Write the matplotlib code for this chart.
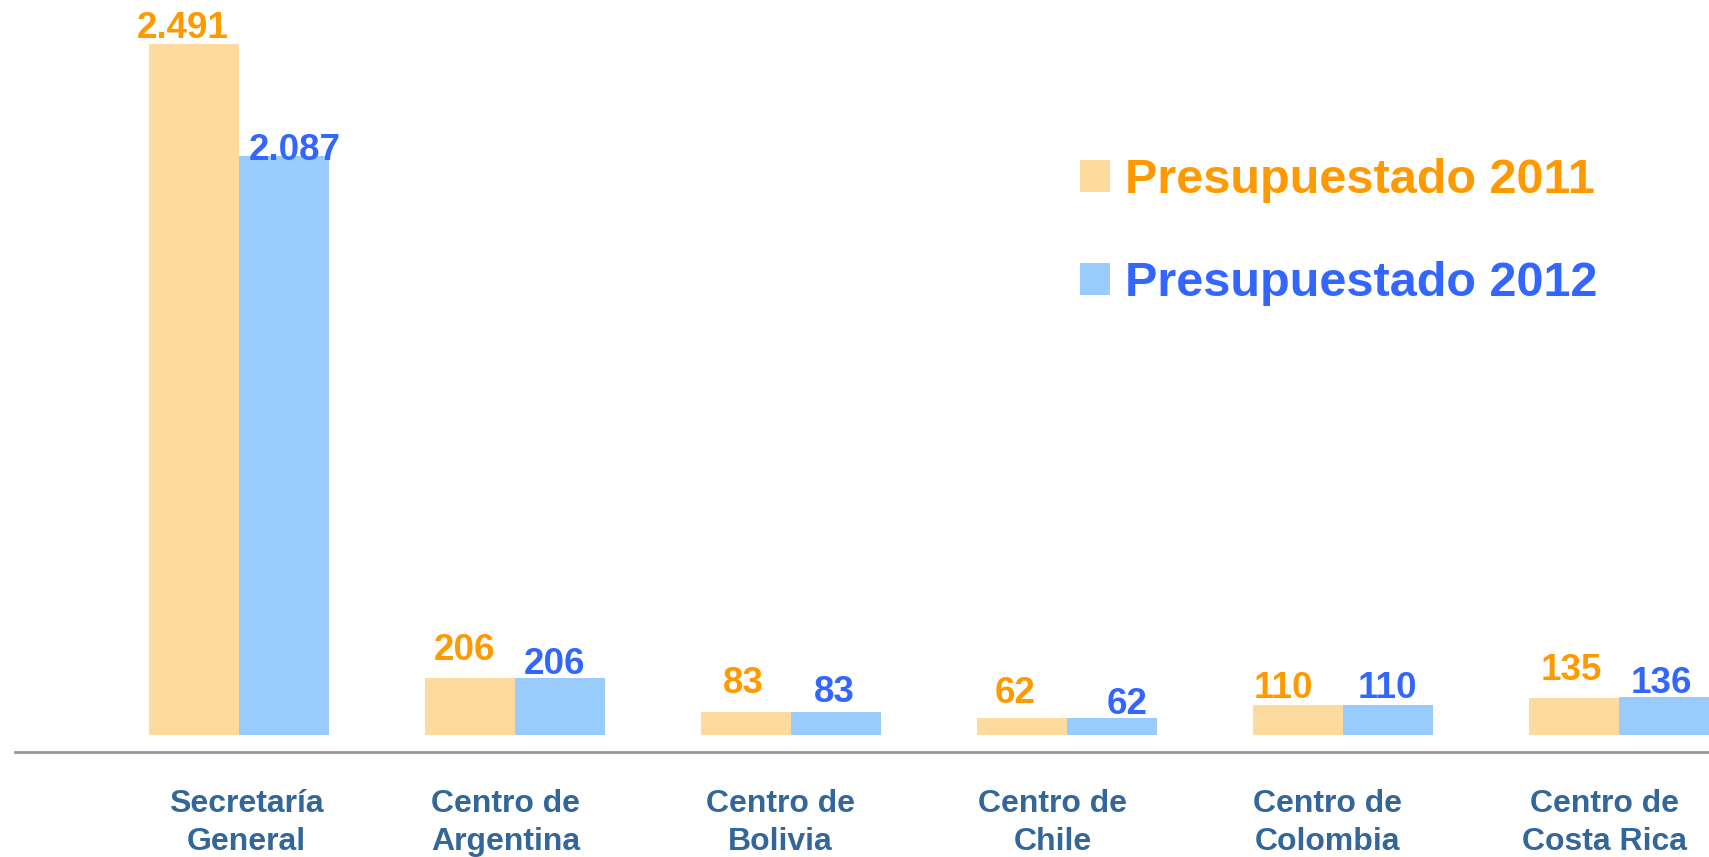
import matplotlib.pyplot as plt
import numpy as np

# data
categories = ["Secretaría\nGeneral", "Centro de\nArgentina", "Centro de\nBolivia",
              "Centro de\nChile", "Centro de\nColombia", "Centro de\nCosta Rica"]
series_names = ["Presupuestado 2011", "Presupuestado 2012"]
values_2011 = [2491, 206, 83, 62, 110, 135]
values_2012 = [2087, 206, 83, 62, 110, 136]
labels_2011 = ["2.491", "206", "83", "62", "110", "135"]
labels_2012 = ["2.087", "206", "83", "62", "110", "136"]

# hand placed label nudges (points), as in the original slide
nudge_2011 = [(-8, 4), (-4, 13), (-2, 14), (-5, 11), (-10, 5), (-2, 12.5)]
nudge_2012 = [(8, -3), (-4, 3), (-1, 7), (11, 3), (0, 5), (-2, 3)]
cat_shift = [0.028, -0.032, -0.036, -0.051, -0.055, -0.051]

bar_fill = ["#FDDA9E", "#9ACBFD"]
text_col = ["#FF9900", "#3366FF"]
cat_col = "#336699"

plt.rcParams['font.family'] = ['Liberation Sans', 'DejaVu Sans']
plt.rcParams['font.weight'] = 'bold'

fig = plt.figure(figsize=(17.09, 8.57), dpi=100)
ax = fig.add_axes([15/1709, 105/857, 1 - 15/1709, 752/857])

x = np.arange(len(categories))
w = 0.326
b1 = ax.bar(x - w/2, values_2011, w, color=bar_fill[0], label=series_names[0])
b2 = ax.bar(x + w/2, values_2012, w, color=bar_fill[1], label=series_names[1])

for bars, labs, nudges, col in [(b1, labels_2011, nudge_2011, text_col[0]),
								(b2, labels_2012, nudge_2012, text_col[1])]:
	for rect, lab, (dx, dy) in zip(bars, labs, nudges):
		ax.annotate(lab, (rect.get_x() + rect.get_width()/2, rect.get_height()),
					xytext=(dx, dy), textcoords="offset points", ha="center", va="baseline",
					fontsize=26.5, fontweight="bold", color=col, annotation_clip=False)

ax.set_xlim(-0.81, 5.327)
ax.set_ylim(-61, 2648)

for s in ["top", "right", "left"]:
	ax.spines[s].set_visible(False)
ax.spines["bottom"].set_color("#999999")
ax.spines["bottom"].set_linewidth(2)
ax.set_yticks([])
ax.set_xticks(x + np.array(cat_shift))
ax.set_xticklabels(categories, fontsize=23, fontweight="bold", color=cat_col, linespacing=1.34)
ax.tick_params(axis="x", length=0, pad=27)

leg = ax.legend(loc="upper left", bbox_to_anchor=(1080/1709, 1 - 158/857),
				bbox_transform=fig.transFigure, frameon=False,
				handlelength=0.62, handleheight=0.62, handletextpad=0.3,
				labelspacing=1.2, borderpad=0, borderaxespad=0,
				prop={"weight": "bold", "size": 35})
for t, c in zip(leg.get_texts(), text_col):
	t.set_color(c)

fig.savefig("out.png", dpi=100)
